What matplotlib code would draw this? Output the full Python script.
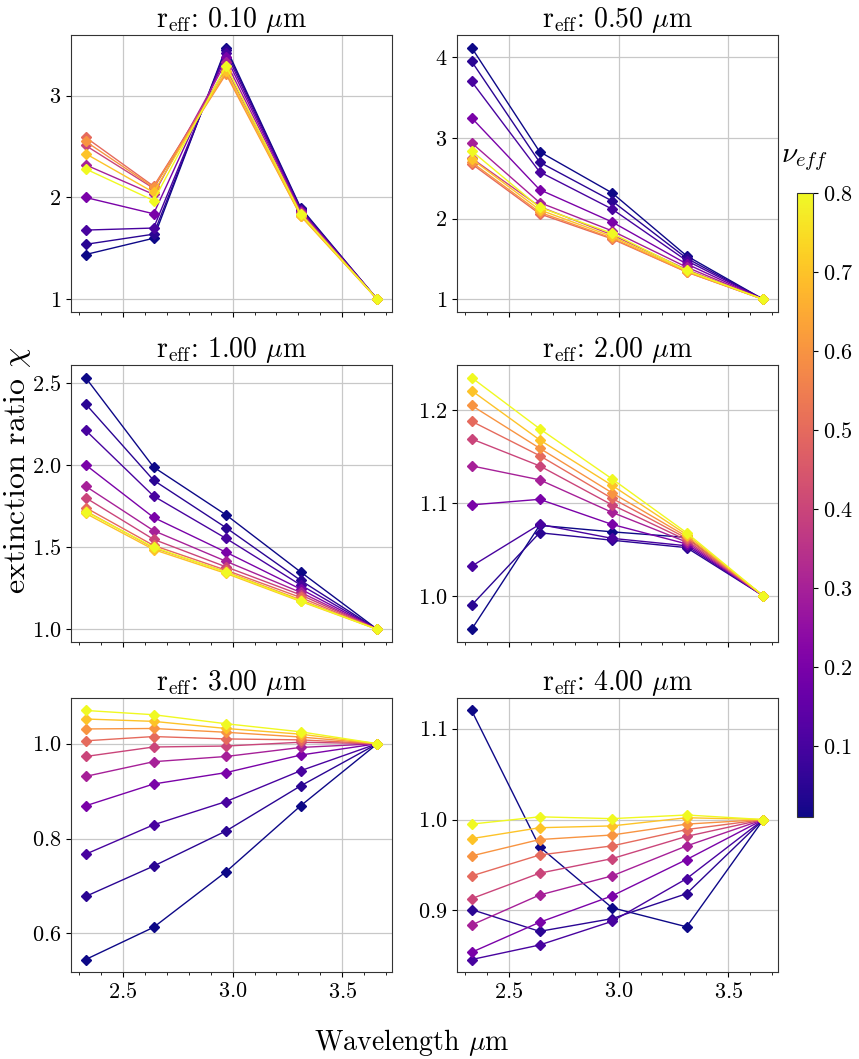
import numpy as np
import matplotlib
matplotlib.use("Agg")
import matplotlib.pyplot as plt
from matplotlib.ticker import MultipleLocator
from matplotlib import cm, colors

plt.rcParams['font.family'] = 'serif'
plt.rcParams['font.serif'] = ['cmr10']
plt.rcParams['mathtext.fontset'] = 'cm'
plt.rcParams['axes.formatter.use_mathtext'] = True
plt.rcParams['axes.unicode_minus'] = False

wavelengths = [2.33, 2.64, 2.97, 3.31, 3.66]
nu_eff = [0.01, 0.05, 0.1, 0.2, 0.3, 0.4, 0.5, 0.6, 0.7, 0.8]
r_eff = [0.10, 0.50, 1.00, 2.00, 3.00, 4.00]

# ratio[r][wavelength index] -> list over nu_eff
ratio_r010 = [
    [1.44, 1.54, 1.68, 2.00, 2.32, 2.51, 2.59, 2.55, 2.43, 2.28],
    [1.60, 1.64, 1.70, 1.84, 2.03, 2.09, 2.11, 2.10, 2.05, 1.97],
    [3.47, 3.45, 3.42, 3.38, 3.33, 3.27, 3.23, 3.21, 3.24, 3.29],
    [1.90, 1.89, 1.88, 1.87, 1.86, 1.85, 1.83, 1.82, 1.82, 1.84],
    [1.0] * 10,
]
ratio_r050 = [
    [4.12, 3.95, 3.70, 3.25, 2.94, 2.75, 2.68, 2.70, 2.74, 2.84],
    [2.83, 2.70, 2.58, 2.36, 2.20, 2.15, 2.06, 2.08, 2.11, 2.14],
    [2.32, 2.22, 2.12, 1.96, 1.85, 1.80, 1.75, 1.76, 1.78, 1.82],
    [1.54, 1.51, 1.48, 1.44, 1.40, 1.37, 1.34, 1.34, 1.35, 1.36],
    [1.0] * 10,
]
ratio_r100 = [
    [2.53, 2.37, 2.21, 2.00, 1.87, 1.80, 1.74, 1.72, 1.705, 1.715],
    [1.986, 1.906, 1.81, 1.68, 1.60, 1.547, 1.51, 1.495, 1.485, 1.50],
    [1.696, 1.618, 1.553, 1.469, 1.414, 1.38, 1.36, 1.35, 1.34, 1.347],
    [1.349, 1.298, 1.27, 1.245, 1.225, 1.21, 1.194, 1.18, 1.17, 1.174],
    [1.0] * 10,
]
ratio_r200 = [
    [0.964, 0.990, 1.032, 1.098, 1.140, 1.169, 1.188, 1.205, 1.221, 1.235],
    [1.076, 1.068, 1.077, 1.104, 1.125, 1.140, 1.151, 1.159, 1.168, 1.180],
    [1.069, 1.060, 1.062, 1.077, 1.090, 1.098, 1.105, 1.111, 1.119, 1.126],
    [1.063, 1.052, 1.054, 1.056, 1.058, 1.060, 1.062, 1.064, 1.066, 1.068],
    [1.0] * 10,
]
ratio_r300 = [
    [0.545, 0.678, 0.767, 0.869, 0.931, 0.973, 1.006, 1.031, 1.052, 1.070],
    [0.613, 0.742, 0.829, 0.915, 0.962, 0.993, 1.015, 1.032, 1.047, 1.061],
    [0.730, 0.816, 0.878, 0.939, 0.973, 0.995, 1.010, 1.024, 1.032, 1.042],
    [0.869, 0.911, 0.943, 0.976, 0.992, 1.003, 1.008, 1.014, 1.020, 1.025],
    [1.0] * 10,
]
ratio_r400 = [
    [1.120, 0.901, 0.846, 0.854, 0.884, 0.913, 0.938, 0.960, 0.979, 0.995],
    [0.970, 0.877, 0.862, 0.887, 0.917, 0.941, 0.961, 0.978, 0.991, 1.003],
    [0.903, 0.891, 0.888, 0.916, 0.938, 0.957, 0.971, 0.983, 0.993, 1.001],
    [0.882, 0.9185, 0.935, 0.956, 0.971, 0.9815, 0.989, 0.995, 1.002, 1.005],
    [1.0] * 10,
]
ratios = [ratio_r010, ratio_r050, ratio_r100, ratio_r200, ratio_r300, ratio_r400]
y_steps = [1, 1, 0.5, 0.1, 0.2, 0.1]

W, H = 859, 1059
fig = plt.figure(figsize=(W / 100, H / 100), dpi=100)

col_x = [71, 457]
ax_w = 321
row_y = [(35, 312), (365, 642), (698, 972)]

cmap = plt.get_cmap('plasma')
norm = colors.Normalize(vmin=min(nu_eff), vmax=max(nu_eff))

axes = []
for i, (r, data) in enumerate(zip(r_eff, ratios)):
    row, col = divmod(i, 2)
    top, bot = row_y[row]
    ax = fig.add_axes([col_x[col] / W, 1 - bot / H, ax_w / W, (bot - top) / H])
    arr = np.array(data)
    for j, nu in enumerate(nu_eff):
        c = cmap(norm(nu))
        ax.plot(wavelengths, arr[:, j], color=c, lw=1.0, marker='D', ms=5,
                mec=c, mfc=c)
    ax.set_title(r'r$_{\rm eff}$: %.2f $\mu$m' % r, fontsize=20, pad=4)
    ax.grid(True, color='#c8c8c8', lw=0.9)
    ax.set_axisbelow(True)
    ax.xaxis.set_major_locator(MultipleLocator(0.5))
    ax.xaxis.set_minor_locator(MultipleLocator(0.1))
    ax.yaxis.set_major_locator(MultipleLocator(y_steps[i]))
    ax.tick_params(labelsize=16)
    ax.set_xlim(2.2635, 3.7265)
    if row < 2:
        ax.set_xticklabels([])
    for s in ax.spines.values():
        s.set_color('#333333')
    axes.append(ax)

fig.text(412 / W, 1 - 1042 / H, r'Wavelength $\mu$m', fontsize=20,
         ha='center', va='center')
fig.text(18 / W, 1 - 470 / H, r'extinction ratio $\chi$', fontsize=23,
         rotation=90, ha='center', va='center')

cax = fig.add_axes([797 / W, 1 - 817 / H, 16 / W, 624 / H])
sm = cm.ScalarMappable(norm=norm, cmap=cmap)
cb = fig.colorbar(sm, cax=cax)
cb.set_ticks([0.1, 0.2, 0.3, 0.4, 0.5, 0.6, 0.7, 0.8])
cb.ax.tick_params(labelsize=16)
cb.outline.set_edgecolor('#333333')
cax.set_title(r'$\nu_{eff}$', fontsize=21, pad=22)

fig.savefig('out.png', dpi=100)
